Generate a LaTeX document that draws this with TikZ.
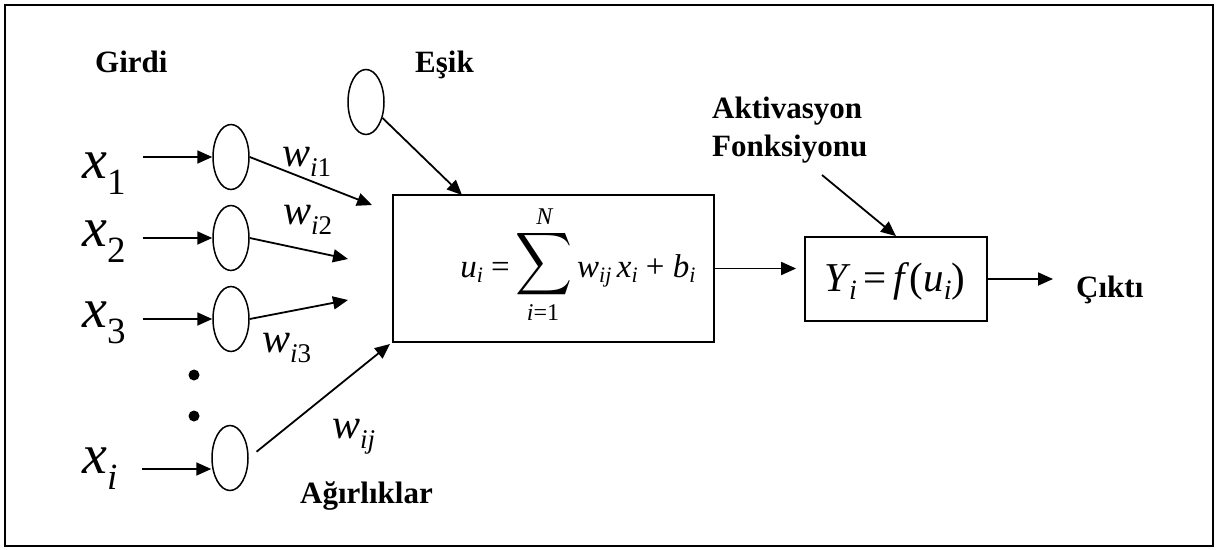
\documentclass[tikz,border=0pt]{standalone}
\usepackage{graphicx}
\usepackage{fontspec}
\setmainfont{Liberation Serif}
\usetikzlibrary{arrows.meta,shapes.geometric}

\newcommand\inpx[1]{{\fontsize{56}{60}\selectfont\textit{x}\raisebox{-16pt}{\fontsize{37}{40}\selectfont #1}}}
\newcommand\wlab[1]{{\fontsize{42}{44}\selectfont\textit{w}\raisebox{-10pt}{\fontsize{27}{30}\selectfont #1}}}
\newcommand\sbs[1]{\raisebox{-5pt}{\fontsize{22}{24}\selectfont\textit{#1}}}
\newcommand\abs[1]{\raisebox{-8pt}{\fontsize{28}{30}\selectfont\textit{#1}}}

\begin{document}
\begin{tikzpicture}[x=1pt,y=-1pt,
  lbl/.style={font=\bfseries\fontsize{31}{37}\selectfont, inner sep=0pt, anchor=base west},
  mathlbl/.style={inner sep=0pt, anchor=base west},
  sumtxt/.style={inner sep=0pt, font=\fontsize{33}{36}\selectfont},
  limtxt/.style={inner sep=0pt, font=\fontsize{24}{26}\selectfont},
  neuron/.style={draw, ellipse, minimum width=36pt, minimum height=65pt, inner sep=0pt, line width=1.5pt},
  blockbox/.style={draw, rectangle, line width=1.8pt, inner sep=0pt},
  arr/.style={-{Triangle[length=15pt,width=13pt]}, line width=1.8pt},
  dotmark/.style={circle, fill, inner sep=0pt, minimum size=11pt}]
\useasboundingbox (0,0) rectangle (1217,549);
\draw[line width=2pt] (4.5,5) rectangle (1212.5,545.5);

% labels
\node[lbl] (girdi) at (95,72) {Girdi};
\node[lbl] (esik) at (415,72) {Eşik};
\node[lbl] (agir) at (300,503) {Ağırlıklar};
\node[lbl] (akt) at (712,118) {Aktivasyon};
\node[lbl] (fonk) at (712,156) {Fonksiyonu};
\node[lbl] (out) at (1076,297) {Çıktı};

% input labels
\node[mathlbl] (x1) at (82,178) {\inpx{1}};
\node[mathlbl] (x2) at (82,246) {\inpx{2}};
\node[mathlbl] (x3) at (82,327) {\inpx{3}};
\node[mathlbl] (xi) at (82,473) {\inpx{\textit{i}}};

% neurons
\node[neuron] (e1) at (231,157) {};
\node[neuron] (e2) at (231,238) {};
\node[neuron] (e3) at (231,319) {};
\node[neuron] (ei) at (230,458) {};
\node[neuron] (th) at (366,102) {};

% dots
\node[dotmark] (d1) at (194,375) {};
\node[dotmark] (d2) at (194,416) {};

% weight labels
\node[mathlbl] (w1) at (282,166) {\wlab{\textit{i}1}};
\node[mathlbl] (w2) at (283,224) {\wlab{\textit{i}2}};
\node[mathlbl] (w3) at (262,352) {\wlab{\textit{i}3}};
\node[mathlbl] (wj) at (332,438) {\wlab{\textit{ij}}};

% summation box
\node[blockbox, minimum width=321pt, minimum height=147pt] (sumbox) at (553.5,268.5) {};
\node[inner sep=0pt] (sumsym) at (544,264) {\resizebox*{57pt}{70pt}{$\displaystyle\sum$}};
\node[limtxt, anchor=base] (sumN) at (545,224) {\textit{N}};
\node[limtxt, anchor=base] (sumlow) at (543,320) {\textit{i}=1};
\node[sumtxt, anchor=base east] (lhs) at (510,277) {\textit{u}\sbs{i} =};
\node[sumtxt, anchor=base west] (rhs) at (577,277) {\textit{w}\sbs{ij}\,\textit{x}\sbs{i} + \textit{b}\sbs{i}};

% activation box
\node[blockbox, minimum width=182pt, minimum height=84pt] (act) at (896,279) {};
\node[inner sep=0pt, anchor=base, font=\fontsize{41}{44}\selectfont] (actf) at (895,291)
  {\textit{Y}\kern-2pt\abs{i}\,=\,\textit{f\/}(\textit{u}\abs{i})};

% free ends
\coordinate (c1) at (143,157);
\coordinate (c2) at (143,238);
\coordinate (c3) at (143,319);
\coordinate (ci) at (142,469);
\coordinate (t1) at (372,205);
\coordinate (t2) at (348,259);
\coordinate (t3) at (348,300);
\coordinate (tj) at (390,344);
\coordinate (tth) at (462,195);
\coordinate (aktstart) at (822,175);

% connectors
\draw[arr] (c1) -- (e1.west);
\draw[arr] (c2) -- (e2.west);
\draw[arr] (c3) -- (e3.west);
\draw[arr] (ci) -- (ci -| ei.west);
\draw[arr] (e1.east) -- (t1);
\draw[arr] (e2.east) -- (t2);
\draw[arr] (e3.east) -- (t3);
\draw[arr, shorten <=10pt] (ei.east) -- (tj);
\draw[arr] (th) -- (tth);
\draw[arr, shorten >=8pt] (sumbox.east) -- (sumbox.east -| act.west);
\draw[arr, shorten >=23pt] (act.east) -- (act.east -| out.west);
\draw[arr] (aktstart) -- (act.north);
\end{tikzpicture}
\end{document}
